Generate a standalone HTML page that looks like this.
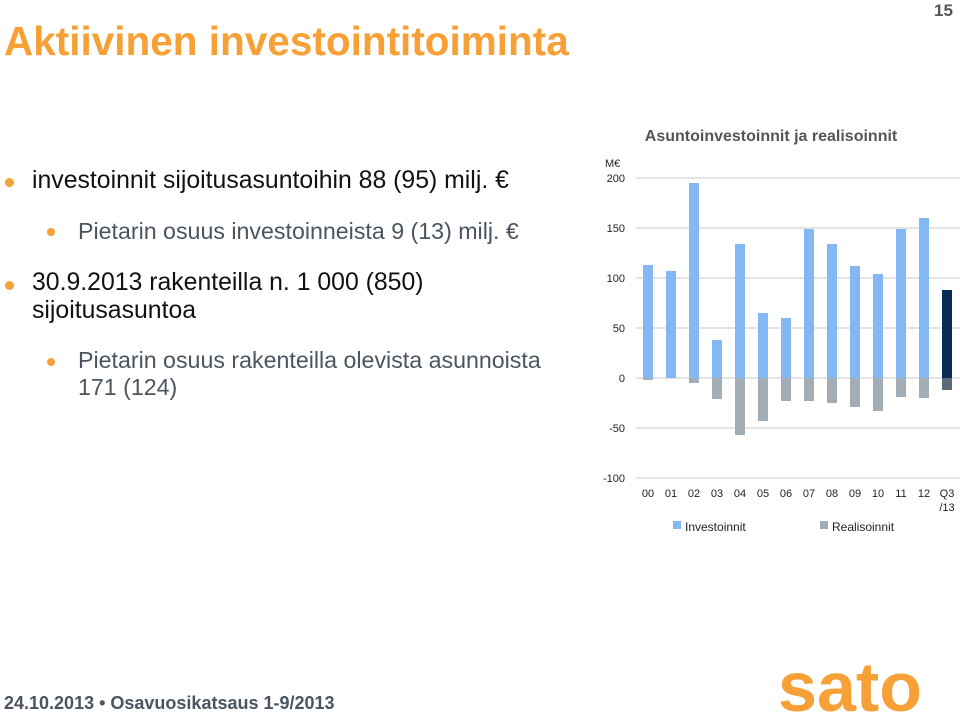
<!DOCTYPE html>
<html><head><meta charset="utf-8"><style>
body{margin:0;width:960px;height:715px;background:#fff;position:relative;overflow:hidden;font-family:"Liberation Sans",sans-serif}
.a{position:absolute;white-space:nowrap}
.dot{position:absolute;width:9px;height:9px;border-radius:50%;background:#f7a035}
</style></head><body>
<div class="a" style="left:934px;top:1px;font-size:17px;font-weight:bold;color:#555">15</div>
<div class="a" style="left:4px;top:18px;font-size:40.5px;font-weight:bold;color:#f7a035">Aktiivinen investointitoiminta</div>

<div class="dot" style="left:5px;top:178px"></div>
<div class="a" style="left:32px;top:167px;font-size:24.8px;color:#111">investoinnit sijoitusasuntoihin 88 (95) milj. €</div>
<div class="dot" style="left:47px;top:228px;width:8px;height:8px"></div>
<div class="a" style="left:78px;top:218px;font-size:23.2px;color:#4a5560">Pietarin osuus investoinneista 9 (13) milj. €</div>
<div class="dot" style="left:5px;top:281px"></div>
<div class="a" style="left:32px;top:269px;font-size:24.8px;color:#111;line-height:28px">30.9.2013 rakenteilla n. 1 000 (850)<br>sijoitusasuntoa</div>
<div class="dot" style="left:47px;top:358px;width:8px;height:8px"></div>
<div class="a" style="left:78px;top:347px;font-size:23.2px;color:#4a5560;line-height:27px">Pietarin osuus rakenteilla olevista asunnoista<br>171 (124)</div>

<svg class="a" style="left:0;top:0" width="960" height="715">
<text x="771" y="141" text-anchor="middle" font-size="16" font-weight="bold" fill="#555">Asuntoinvestoinnit ja realisoinnit</text>
<text x="605" y="167" font-size="11" fill="#222">M€</text>
<g id="grid"></g><g id="bars"></g><g id="xl"></g>
<rect x="673" y="521" width="8" height="8" fill="#83b8f5"/>
<text x="685" y="531" font-size="12" fill="#222">Investoinnit</text>
<rect x="820" y="521" width="8" height="8" fill="#a3adb5"/>
<text x="832" y="531" font-size="12" fill="#222">Realisoinnit</text>
<text x="778" y="711" font-size="70" font-weight="bold" fill="#f7a035" textLength="144" lengthAdjust="spacingAndGlyphs">sato</text>
</svg>

<div class="a" style="left:4px;top:693px;font-size:18px;font-weight:bold;color:#4a5560">24.10.2013 • Osavuosikatsaus 1-9/2013</div>

<script>
const categories=["00","01","02","03","04","05","06","07","08","09","10","11","12","Q3"];
const investoinnit=[113,107,195,38,134,65,60,149,134,112,104,149,160,88];
const realisoinnit=[-2,0,-5,-21,-57,-43,-23,-23,-25,-29,-33,-19,-20,-12];
const ticks=[200,150,100,50,0,-50,-100];
const NS="http://www.w3.org/2000/svg";
const y=v=>378-v*1.0;
const x=i=>648+i*23;
function mk(t,a,p){const e=document.createElementNS(NS,t);for(const k in a)e.setAttribute(k,a[k]);p.appendChild(e);return e;}
const g=document.getElementById('grid'),b=document.getElementById('bars'),xl=document.getElementById('xl');
ticks.forEach(t=>{
  const l=mk('line',{x1:636,x2:960,y1:y(t),y2:y(t),stroke:'#c8c8c8','stroke-width':1},g);
  
  
  const tx=mk('text',{x:625,y:y(t)+4,'text-anchor':'end','font-size':11,fill:'#222'},g);
  tx.textContent=t;
  
  
});
categories.forEach((c,i)=>{
  const last=i===categories.length-1;
  const r1=mk('rect',{x:x(i)-5,y:y(investoinnit[i]),width:10,height:y(0)-y(investoinnit[i]),fill:last?'#062b55':'#83b8f5'},b);
  
  
  const r2=mk('rect',{x:x(i)-5,y:y(0),width:10,height:y(realisoinnit[i])-y(0),fill:last?'#5a6b7c':'#a3adb5'},b);
  
  
  const t=mk('text',{x:x(i),y:497,'text-anchor':'middle','font-size':11,fill:'#222'},xl);
  t.textContent=c;
  
  
  if(last){const t2=mk('text',{x:x(i),y:511,'text-anchor':'middle','font-size':11,fill:'#222'},xl);t2.textContent='/13';}
});
</script>
</body></html>
